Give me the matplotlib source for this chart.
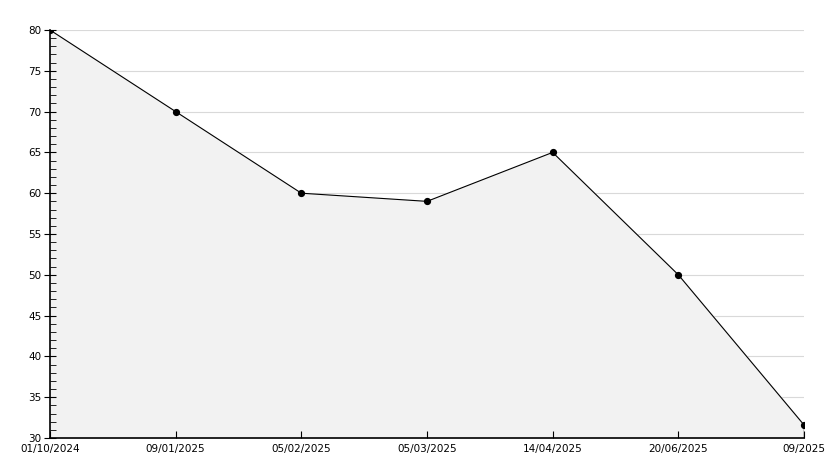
import matplotlib.pyplot as plt
from matplotlib.ticker import MultipleLocator

dates = ['01/10/2024', '09/01/2025', '05/02/2025', '05/03/2025',
         '14/04/2025', '20/06/2025', '09/2025']
values = [80, 70, 60, 59, 65, 50, 31.6]
grid_levels = [35, 40, 45, 50, 55, 60, 65, 70, 75, 80]

fig = plt.figure(figsize=(8.34, 4.68), dpi=100)
ax = fig.add_axes([50 / 834, 30 / 468, 754 / 834, 408 / 468])

x = list(range(len(dates)))
# grid behind the filled area, ticks stay on top
for g in grid_levels:
    ax.axhline(g, color='#d9d9d9', lw=0.8, zorder=0)
ax.fill_between(x, values, 30, color='#f2f2f2', zorder=1)
ax.plot(x, values, color='black', lw=0.8, marker='o', ms=4.2, zorder=3)
ax.vlines(x[-1], 30, values[-1], color='black', lw=1, zorder=3)

ax.set_xlim(0, len(dates) - 1)
ax.set_ylim(30, 80)
ax.set_xticks(x)
ax.set_xticklabels(dates)
ax.yaxis.set_major_locator(MultipleLocator(5))
ax.yaxis.set_minor_locator(MultipleLocator(1))

for side in ('top', 'right'):
    ax.spines[side].set_visible(False)
for side in ('left', 'bottom'):
    ax.spines[side].set_linewidth(1.2)

ax.tick_params(axis='y', which='major', direction='inout', length=8, labelsize=7.5, pad=2)
ax.tick_params(axis='y', which='minor', direction='in', length=4)
ax.tick_params(axis='x', direction='in', length=5, labelsize=7.5, pad=4)

fig.savefig('out.png', dpi=100)
